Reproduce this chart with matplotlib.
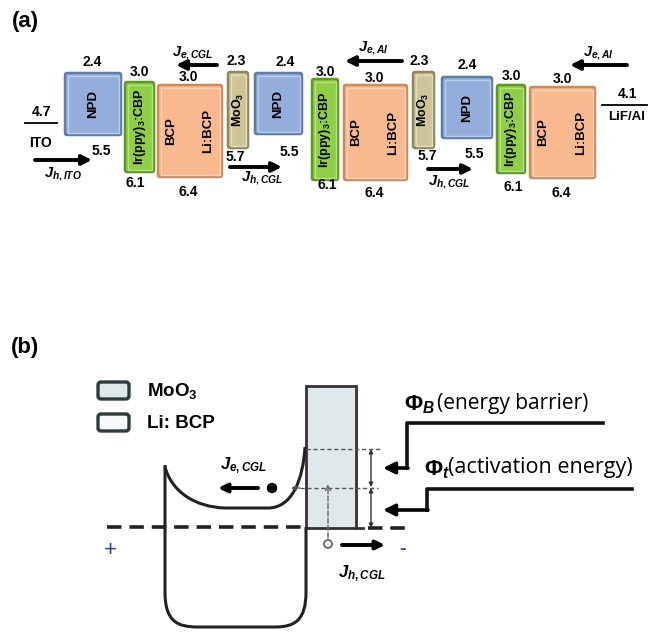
import numpy as np
import matplotlib.pyplot as plt
from matplotlib.patches import Rectangle, FancyBboxPatch, Circle, PathPatch
from matplotlib.path import Path

plt.rcParams['font.family'] = ['Liberation Sans', 'DejaVu Sans']
plt.rcParams['mathtext.fontset'] = 'custom'
plt.rcParams['mathtext.rm'] = 'Liberation Sans:bold'
plt.rcParams['mathtext.it'] = 'Liberation Sans:italic:bold'
plt.rcParams['mathtext.bf'] = 'Liberation Sans:bold'

# -------------------------------
# Data: (a) energy levels of the tandem stack
# -------------------------------

layer_kind = ['NPD', 'EML', 'BCP', 'MoO3',
              'NPD', 'EML', 'BCP', 'MoO3',
              'NPD', 'EML', 'BCP']
layer_text = {'NPD': ['NPD'],
              'EML': ['Ir(ppy)$_3$:CBP'],
              'BCP': ['BCP', 'Li:BCP'],
              'MoO3': ['MoO$_3$']}
lumo = ['2.4', '3.0', '3.0', '2.3', '2.4', '3.0', '3.0', '2.3', '2.4', '3.0', '3.0']
homo = ['5.5', '6.1', '6.4', '5.7', '5.5', '6.1', '6.4', '5.7', '5.5', '6.1', '6.4']

electrode_names = ['ITO', 'LiF/Al']
electrode_levels = ['4.7', '4.1']

current_labels_a = [r'$J_{h,ITO}$', r'$J_{e,CGL}$', r'$J_{h,CGL}$',
                    r'$J_{e,Al}$', r'$J_{h,CGL}$', r'$J_{e,Al}$']

# -------------------------------
# Layout (pixels of the drawing)
# -------------------------------

box_x = [(65, 121), (125, 154), (158, 222), (228, 248), (255, 302), (312, 338),
         (344, 407), (413, 434), (442, 492), (497, 525), (530, 595)]
box_y = [(73, 135), (82, 172), (85, 177), (72, 148), (73, 134), (79, 180),
         (85, 180), (72, 148), (77, 138), (85, 173), (87, 178)]
lumo_xy = [(92, 62), (139, 72), (188, 77), (236, 61), (285, 62), (325, 72),
           (374, 78), (419, 61), (467, 65), (511, 76), (562, 79)]
homo_xy = [(101, 151), (135, 183), (188, 192), (235, 157), (289, 152), (327, 185),
           (374, 193), (427, 156), (474, 154), (513, 187), (561, 193)]
# tail x, head x, y, label x, label y
arrows_a = [(35, 92, 160, 63, 174), (217, 176, 65, 193, 53), (230, 282, 167, 262, 178),
            (402, 345, 61, 373, 48), (428, 473, 169, 449, 182), (627, 570, 65, 598, 53)]

colours = {'NPD': ('#93aedb', '#5f7ca9', '#b9cdec'),
           'EML': ('#8fcf45', '#5c9728', '#b6e27f'),
           'BCP': ('#f9b98f', '#c98a5f', '#fcd3b6'),
           'MoO3': ('#cdc597', '#8f875c', '#e2dcbb')}

# -------------------------------
# Helpers
# -------------------------------

def arrow(ax, tail, head, lw=2.8, ms=14, colour='black', style='-|>', ls='-'):
    ax.annotate('', xy=head, xytext=tail,
                arrowprops=dict(arrowstyle=style, lw=lw, color=colour,
                                mutation_scale=ms, shrinkA=0, shrinkB=0, linestyle=ls))

def draw_layer(ax, x, y, kind):
    face, edge, light = colours[kind]
    ax.add_patch(FancyBboxPatch((x[0], y[0]), x[1] - x[0], y[1] - y[0],
                                boxstyle='round,pad=0,rounding_size=2',
                                fc=face, ec=edge, lw=1.8))
    ax.add_patch(Rectangle((x[0] + 2.5, y[0] + 2.5), x[1] - x[0] - 5, y[1] - y[0] - 5,
                           fc='none', ec=light, lw=1.0))
    cx = (x[0] + x[1]) / 2
    cy = (y[0] + y[1]) / 2
    names = layer_text[kind]
    if len(names) == 1:
        ax.text(cx, cy, names[0], rotation=90, ha='center', va='center',
                fontsize=9 if kind != 'NPD' else 9.5, fontweight='bold')
    else:
        w = x[1] - x[0]
        ax.text(x[0] + 0.2 * w, cy, names[0], rotation=90, ha='center', va='center',
                fontsize=9.5, fontweight='bold')
        ax.text(x[0] + 0.78 * w, cy, names[1], rotation=90, ha='center', va='center',
                fontsize=9.5, fontweight='bold')

def phi_label(ax, x, y, sub, desc, desc_x, size):
    # Φ with its subscript as one mathtext string, then the description
    ax.text(x, y, r'$\mathit{\Phi}_{\mathit{%s}}$' % sub, ha='left', va='center',
            fontsize=16)
    ax.text(desc_x, y - 2, desc, ha='left', va='center', fontsize=size,
            family=['Open Sans', 'DejaVu Sans'])

# -------------------------------
# Figure
# -------------------------------

fig = plt.figure(figsize=(6.49, 6.33), dpi=100)
ax = fig.add_axes([0, 0, 1, 1])
ax.set_xlim(0, 649)
ax.set_ylim(633, 0)
ax.axis('off')

# ---- (a) ----
ax.text(25, 21, '(a)', ha='center', va='center', fontsize=16, fontweight='bold')

for i, kind in enumerate(layer_kind):
    draw_layer(ax, box_x[i], box_y[i], kind)
    ax.text(*lumo_xy[i], lumo[i], ha='center', va='center', fontsize=10, fontweight='bold')
    ax.text(*homo_xy[i], homo[i], ha='center', va='center', fontsize=10, fontweight='bold')

# electrodes
ax.plot([25, 57], [123, 123], color='black', lw=1.3)
ax.text(42, 112, electrode_levels[0], ha='center', va='center', fontsize=10, fontweight='bold')
ax.text(41, 143, electrode_names[0], ha='center', va='center', fontsize=10, fontweight='bold')
ax.plot([602, 647], [105, 105], color='black', lw=1.3)
ax.text(628, 94, electrode_levels[1], ha='center', va='center', fontsize=10, fontweight='bold')
ax.text(627, 117, electrode_names[1], ha='center', va='center', fontsize=9.5, fontweight='bold')

for (xt, xh, y, lx, ly), lab in zip(arrows_a, current_labels_a):
    arrow(ax, (xt, y), (xh, y))
    ax.text(lx, ly, lab, ha='center', va='center', fontsize=10.5)

# ---- (b) ----
ax.text(25, 348, '(b)', ha='center', va='center', fontsize=16, fontweight='bold')

legend_names = ['MoO$_3$', 'Li: BCP']
legend_faces = ['#dce8ea', '#f6fafa']
for k, (name, fc) in enumerate(zip(legend_names, legend_faces)):
    y0 = 382 + k * 32
    ax.add_patch(FancyBboxPatch((98, y0), 31, 17, boxstyle='round,pad=0,rounding_size=3',
                                fc=fc, ec='#2e3b3b', lw=2.4))
    ax.text(147, y0 + 9, name, ha='left', va='center', fontsize=13.5, fontweight='bold')

# MoO3 barrier block
ax.add_patch(Rectangle((306, 386), 50, 142, fc='#dfe9ec', ec='#333333', lw=2.0))
ax.plot([356, 363], [528, 528], color='#333333', lw=2.0)

# thick Fermi level line
ax.plot([107, 306], [527, 527], color='#222222', lw=2.6, dashes=(4, 2.2))
ax.plot([368, 412], [528, 528], color='#222222', lw=2.6, dashes=(4, 2.2))

# Li:BCP well (U shape) and conduction band bending
u_verts = [(165, 465), (165, 592), (165, 622), (178, 627), (198, 627), (275, 627),
           (295, 627), (306, 620), (306, 592), (306, 527)]
u_codes = [Path.MOVETO, Path.LINETO, Path.CURVE4, Path.CURVE4, Path.CURVE4, Path.LINETO,
           Path.CURVE4, Path.CURVE4, Path.CURVE4, Path.LINETO]
ax.add_patch(PathPatch(Path(u_verts, u_codes), fc='none', ec='#222222', lw=2.2))
c_verts = [(165, 467), (172, 492), (195, 507), (225, 508), (268, 508),
           (292, 508), (303, 480), (305, 447)]
c_codes = [Path.MOVETO, Path.CURVE4, Path.CURVE4, Path.CURVE4, Path.LINETO,
           Path.CURVE4, Path.CURVE4, Path.CURVE4]
ax.add_patch(PathPatch(Path(c_verts, c_codes), fc='none', ec='#222222', lw=2.2))

# thin dashed guides
ax.plot([306, 382], [449, 449], color='#555555', lw=1.0, dashes=(3, 2))
ax.plot([300, 378], [488, 488], color='#555555', lw=1.0, dashes=(3, 2))
arrow(ax, (300, 488), (291, 488), lw=1.0, ms=7, colour='#555555', style='->')
arrow(ax, (328, 538), (328, 484), lw=1.0, ms=9, colour='#666666', style='->', ls='--')
ax.add_patch(Circle((328, 544), 4, fc='white', ec='#666666', lw=1.3))
ax.add_patch(Circle((272, 488), 4.5, fc='black', ec='black'))

# energy double arrows
arrow(ax, (371, 449), (371, 487), lw=1.0, ms=6, colour='#333333', style='<|-|>')
arrow(ax, (371, 488), (371, 528), lw=1.0, ms=6, colour='#333333', style='<|-|>')

# current arrows
arrow(ax, (258, 488), (218, 488), lw=2.8, ms=13)
ax.text(243, 466, r'$J_{e,CGL}$', ha='center', va='center', fontsize=12)
arrow(ax, (342, 545), (385, 545), lw=2.8, ms=13)
ax.text(362, 574, r'$J_{h,CGL}$', ha='center', va='center', fontsize=12)

ax.text(110, 550, '+', ha='center', va='center', fontsize=16, color='#2a3f9a')
ax.text(403, 549, '-', ha='center', va='center', fontsize=14, color='#2a3f9a', fontweight='bold')

# barrier pointers
ax.plot([603, 407, 407], [423, 423, 468], color='#111111', lw=2.6)
arrow(ax, (408, 468), (383, 468), lw=2.6, ms=17)
ax.plot([632, 427, 427], [489, 489, 510], color='#111111', lw=2.6)
arrow(ax, (428, 510), (383, 510), lw=2.6, ms=17)

phi_label(ax, 404, 405, 'B', '(energy barrier)', 437, 15)
phi_label(ax, 424, 470, 't', '(activation energy)', 448, 15.5)

fig.savefig('out.png', dpi=100)
